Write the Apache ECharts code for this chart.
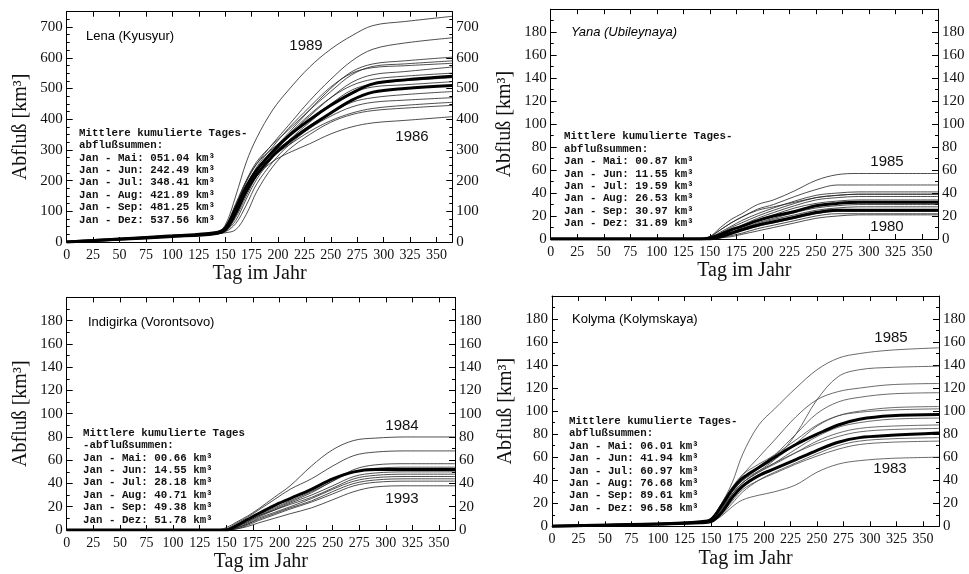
<!DOCTYPE html>
<html><head><meta charset="utf-8">
<script src="https://cdn.jsdelivr.net/npm/echarts@6/dist/echarts.min.js"></script>
<style>html,body{margin:0;padding:0;background:#fff}#c{width:969px;height:574px}</style>
</head><body><div id="c"></div>
<script>
// Day-of-year sample points shared by all curves
const days = [0,50,100,140,150,160,170,180,195,210,230,250,270,290,320,365];

// Lena (Kyusyur), km³
const lenaThin = [
  [0, 9, 19, 27, 55, 150, 260, 340, 430, 495, 570, 628, 672, 705, 718, 735],
  [0, 10, 20, 28, 42, 115, 195, 255, 320, 380, 460, 530, 590, 628, 648, 665],
  [0, 9, 19, 28, 38, 95, 175, 235, 300, 355, 430, 500, 555, 580, 590, 602],
  [0, 10, 20, 29, 45, 120, 200, 262, 318, 365, 430, 490, 545, 572, 580, 590],
  [0, 9, 18, 26, 35, 80, 150, 215, 285, 345, 410, 470, 520, 545, 555, 570],
  [0, 9, 19, 27, 50, 125, 200, 255, 305, 345, 400, 450, 495, 515, 525, 535],
  [0, 10, 20, 28, 36, 70, 140, 205, 275, 330, 390, 445, 485, 505, 512, 522],
  [0, 8, 17, 25, 42, 110, 185, 240, 290, 330, 380, 420, 455, 470, 480, 490],
  [0, 9, 18, 26, 33, 60, 120, 190, 260, 315, 370, 410, 440, 455, 462, 470],
  [0, 10, 19, 28, 45, 115, 185, 235, 280, 315, 360, 395, 420, 435, 445, 455],
  [0, 9, 18, 27, 30, 40, 90, 165, 245, 300, 350, 390, 415, 428, 436, 445],
  [0, 8, 17, 25, 35, 85, 160, 215, 262, 290, 320, 352, 375, 388, 396, 408],
  [0, 9, 18, 27, 40, 100, 180, 245, 310, 370, 440, 505, 550, 568, 574, 582],
  [0, 9, 19, 28, 38, 90, 165, 230, 295, 350, 415, 470, 510, 530, 540, 550]
];
const lenaBold = [
  [0, 10, 20, 30, 45, 110, 180, 235, 295, 345, 398, 445, 485, 515, 528, 540],
  [0, 9, 18, 27, 40, 95, 165, 220, 280, 325, 375, 420, 462, 488, 500, 510]
];

// Yana (Ubileynaya)
const yanaThin = [
  [0,0,0,0,2,10,17,22,30,34,42,51,56,57,57,57],
  [0,0,0,0,2,8,14,19,26,30,37,43,47,47,47,47],
  [0,0,0,0,1,6,11,16,22,27,33,38,40,41,41,41],
  [0,0,0,0,1,5,10,14,20,25,31,36,38,39,39,39],
  [0,0,0,0,1,4,8,12,18,23,29,34,36,37,37,37],
  [0,0,0,0,1,4,8,11,16,21,27,31,33,34,34,34],
  [0,0,0,0,1,3,6,9,14,18,23,27,29,30,30,30],
  [0,0,0,0,0,3,6,9,13,17,21,25,27,28,28,28],
  [0,0,0,0,0,2,4,7,11,14,18,22,24,24,24,24],
  [0,0,0,0,0,1,3,5,9,12,16,20,22,22,22,22],
  [0,0,0,0,0,1,2,4,7,10,14,18,20,21,21,21],
  [0,0,0,0,2,8,14,19,25,28,32,36,38,39,39,39]
];
const yanaBold = [
  [0,0,0,0,1,4,8,11,16,20,24,29,31,32,32,32],
  [0,0,0,0,0,2,5,8,12,15,19,23,25,25,25,25]
];

// Indigirka (Vorontsovo)
const indiThin = [
  [0,0,0,0,2,7,12,18,28,38,55,69,77,79,80,80],
  [0,0,0,0,1,6,11,17,26,35,44,55,64,67,68,68],
  [0,0,0,0,0,3,8,13,19,25,33,42,52,56,57,57],
  [0,0,0,0,0,3,7,12,18,24,32,42,50,53,54,54],
  [0,0,0,0,0,2,6,11,17,23,30,38,46,49,50,50],
  [0,0,0,0,0,3,7,12,17,22,28,36,44,47,48,48],
  [0,0,0,0,0,2,5,10,15,20,27,35,42,45,46,46],
  [0,0,0,0,0,2,5,9,14,19,25,33,40,43,44,44],
  [0,0,0,0,0,1,4,8,13,18,24,31,38,41,42,42],
  [0,0,0,0,0,1,3,6,10,14,19,26,33,37,38,38]
];
const indiBold = [
  [0,0,0,0,0,4,9,14,21,27,35,44,50,52,52,52]
];

// Kolyma (Kolymskaya)
const kolyThin = [
  [0,1,2,4,7,20,38,63,88,102,120,136,146,150,153,155],
  [0,1,2,4,5,15,28,38,48,58,80,110,130,136,138,139],
  [0,1,2,4,6,18,33,45,60,75,95,110,117,120,123,124],
  [0,1,2,4,6,17,30,40,52,62,80,98,108,112,115,116],
  [0,1,2,3,5,16,30,40,50,58,72,87,96,100,103,104],
  [0,1,2,4,6,20,34,45,54,62,75,88,96,99,101,102],
  [0,1,2,3,5,15,28,38,47,55,67,78,86,90,93,94],
  [0,1,2,3,4,14,28,38,47,54,64,74,81,85,87,88],
  [0,1,2,3,5,16,30,40,48,55,64,72,78,82,84,85],
  [0,1,2,3,4,10,20,30,40,47,55,63,70,74,76,77],
  [0,1,2,3,4,11,22,32,40,46,54,61,67,71,73,74],
  [0,1,2,3,4,9,17,23,27,30,36,47,54,57,59,60]
];
const kolyBold = [
  [0,1,2,4,6,18,32,42,51,60,71,80,88,93,96,97],
  [0,1,2,3,4,12,25,35,44,50,58,66,73,77,79,81]
];

const rivers = ['Lena (Kyusyur)', 'Yana (Ubileynaya)', 'Indigirka (Vorontsovo)', 'Kolyma (Kolymskaya)'];
const yMax = [750, 200, 200, 200];
const yStep = [100, 20, 20, 20];
const xMax = 365, xStep = 25;

const annoLena = ['Mittlere kumulierte Tages-','abflußsummen:','Jan - Mai: 051.04 km³','Jan - Jun: 242.49 km³','Jan - Jul: 348.41 km³','Jan - Aug: 421.89 km³','Jan - Sep: 481.25 km³','Jan - Dez: 537.56 km³'];
const annoYana = ['Mittlere kumulierte Tages-','abflußsummen:','Jan - Mai: 00.87 km³','Jan - Jun: 11.55 km³','Jan - Jul: 19.59 km³','Jan - Aug: 26.53 km³','Jan - Sep: 30.97 km³','Jan - Dez: 31.89 km³'];
const annoIndi = ['Mittlere kumulierte Tages','-abflußsummen:','Jan - Mai: 00.66 km³','Jan - Jun: 14.55 km³','Jan - Jul: 28.18 km³','Jan - Aug: 40.71 km³','Jan - Sep: 49.38 km³','Jan - Dez: 51.78 km³'];
const annoKoly = ['Mittlere kumulierte Tages-','abflußsummen:','Jan - Mai: 06.01 km³','Jan - Jun: 41.94 km³','Jan - Jul: 60.97 km³','Jan - Aug: 76.68 km³','Jan - Sep: 89.61 km³','Jan - Dez: 96.58 km³'];

const yearLabels = [['1989','1986'],['1985','1980'],['1984','1993'],['1985','1983']];

// ---- layout / styles ----
const grids = [
  {left: 66.7, top: 11.7, width: 385.6, height: 230.3},
  {left: 550.7, top: 9.2, width: 387.3, height: 229.8},
  {left: 66.7, top: 297.4, width: 388.3, height: 232.6},
  {left: 552, top: 296, width: 387, height: 230.3}
];
const minorSplit = [4, 2, 2, 2];
const serif = 'Liberation Serif';
const lineCol = '#000';

const xAxes = [], yAxes = [], series = [];
grids.forEach((g, i) => {
  const common = {axisLine: {show: true, onZero: false, lineStyle: {color: lineCol, width: 1}}, splitLine: {show: false}};
  xAxes.push(Object.assign({}, common, {
    gridIndex: i, type: 'value', min: 0, max: xMax, interval: xStep, position: 'bottom',
    axisTick: {show: true, inside: true, length: 5, lineStyle: {color: lineCol}},
    axisLabel: {show: true, margin: 6, showMaxLabel: false, fontFamily: serif, fontSize: 14, color: '#111'},
    name: 'Tag im Jahr', nameLocation: 'middle', nameGap: 22,
    nameTextStyle: {fontFamily: serif, fontSize: 20, color: '#111'}
  }));
  xAxes.push(Object.assign({}, common, {
    gridIndex: i, type: 'value', min: 0, max: xMax, interval: xStep, position: 'top',
    axisTick: {show: true, inside: true, length: 5, lineStyle: {color: lineCol}},
    axisLabel: {show: false}
  }));
  const yBase = {
    gridIndex: i, type: 'value', min: 0, max: yMax[i], interval: yStep[i],
    axisTick: {show: true, inside: true, length: 6, lineStyle: {color: lineCol}},
    minorTick: {show: true, splitNumber: minorSplit[i], length: 3, lineStyle: {color: lineCol}},
    minorSplitLine: {show: false},
    axisLabel: {show: true, margin: 4, showMaxLabel: false, fontFamily: serif, fontSize: 15, color: '#111'}
  };
  yAxes.push(Object.assign({}, common, yBase, {
    position: 'left', name: 'Abfluß [km³]', nameLocation: 'middle', nameGap: 36, nameRotate: 90,
    nameTextStyle: {fontFamily: serif, fontSize: 20, color: '#111'}
  }));
  yAxes.push(Object.assign({}, common, yBase, {position: 'right'}));
});

const panels = [[lenaThin, lenaBold], [yanaThin, yanaBold], [indiThin, indiBold], [kolyThin, kolyBold]];
panels.forEach((p, i) => {
  const mk = (vals, bold) => ({
    type: 'line', xAxisIndex: 2 * i, yAxisIndex: 2 * i,
    data: days.map((d, k) => [d, vals[k]]),
    showSymbol: false, symbol: 'none', smooth: 0.35, silent: true,
    lineStyle: bold ? {color: '#000', width: 3} : {color: i === 3 ? '#444' : '#222', width: 0.8},
    z: bold ? 3 : 2
  });
  p[0].forEach(v => series.push(mk(v, false)));
  p[1].forEach(v => series.push(mk(v, true)));
});

const annoFont = 'bold 10.8px "Liberation Mono"';
const annoPos = [[79, 126.8], [564, 130.5], [83, 426.8], [569, 415]];
const annos = [annoLena, annoYana, annoIndi, annoKoly];
const titlePos = [[86, 30], [571, 25.5], [88, 316], [572, 312.5]];
const yearPos = [[[306, 46], [412, 137]], [[887, 162], [887, 227]], [[402, 426], [402, 499]], [[891, 338], [890, 469]]];

const graphic = [];
annos.forEach((a, i) => graphic.push({
  type: 'text', x: annoPos[i][0], y: annoPos[i][1], z: 10,
  style: {text: a.join('\n'), font: annoFont, fill: '#111', lineHeight: 12.4, verticalAlign: 'top'}
}));
rivers.forEach((r, i) => graphic.push({
  type: 'text', x: titlePos[i][0], y: titlePos[i][1], z: 10,
  style: {text: r, font: (i === 1 ? 'italic ' : '') + '13px "Liberation Sans"', fill: '#000', verticalAlign: 'top'}
}));
yearLabels.forEach((ys, i) => ys.forEach((y, j) => graphic.push({
  type: 'text', x: yearPos[i][j][0], y: yearPos[i][j][1], z: 10,
  style: {text: y, font: '15px "Liberation Sans"', fill: '#111', align: 'center', verticalAlign: 'middle'}
})));

const chart = echarts.init(document.getElementById('c'), null, {renderer: 'canvas'});
chart.setOption({
  animation: false,
  backgroundColor: '#fff',
  grid: grids.map(g => Object.assign({containLabel: false}, g)),
  xAxis: xAxes, yAxis: yAxes, series: series, graphic: graphic
});
</script></body></html>
